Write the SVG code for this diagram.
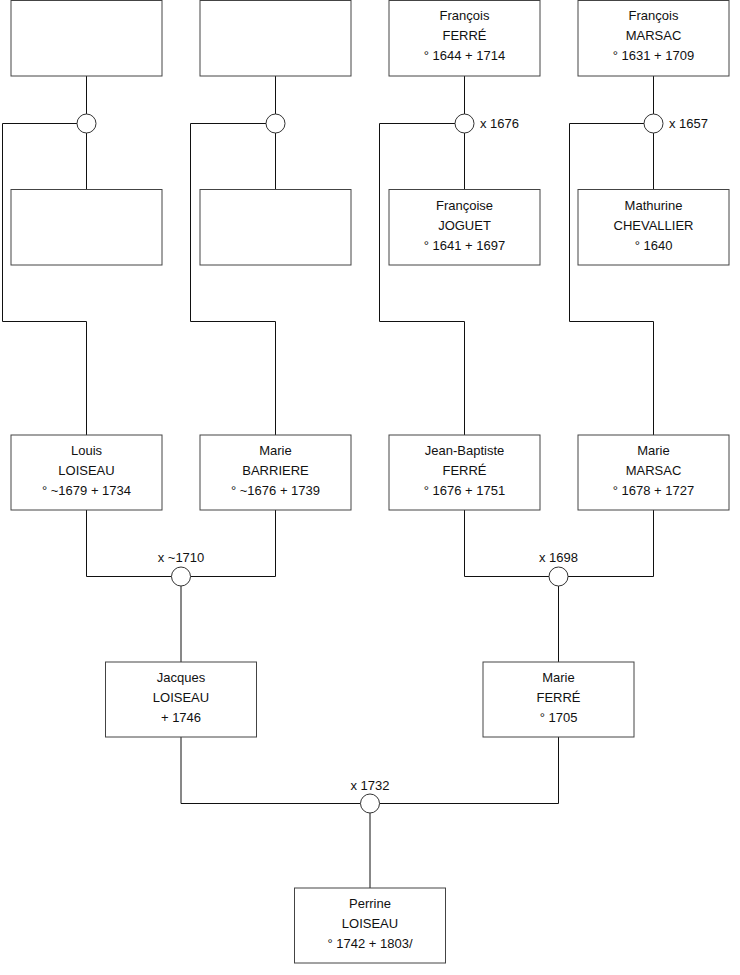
<svg xmlns="http://www.w3.org/2000/svg" width="740" height="975" viewBox="0 0 740 975">
<style>
.box{fill:#fff;stroke:#444;stroke-width:1}
.ln{fill:none;stroke:#111;stroke-width:1}
.ring{fill:#fff;stroke:#333;stroke-width:1}
text{font-family:"Liberation Sans",Arial,sans-serif;font-size:13px;fill:#111}
.c{text-anchor:middle}
</style>
<rect width="740" height="975" fill="#fff"/>
<g id="connectors">
<path class="ln" d="M86.5 76 V114 M86.5 133 V189.5 M77 123.5 H2.5 V321.5 H86.5 V435"/>
<path class="ln" d="M275.5 76 V114 M275.5 133 V189.5 M266 123.5 H190.5 V321.5 H275.5 V435"/>
<path class="ln" d="M464.5 76 V114 M464.5 133 V189.5 M455 123.5 H379.5 V321.5 H464.5 V435"/>
<path class="ln" d="M653.5 76 V114 M653.5 133 V189.5 M644 123.5 H569.5 V321.5 H653.5 V435"/>
<path class="ln" d="M86.5 510 V576.5 H171.5 M190.5 576.5 H275.5 V510 M181 586 V662"/>
<path class="ln" d="M464.5 510 V576.5 H549 M568 576.5 H653.5 V510 M558.5 586 V662"/>
<path class="ln" d="M181 737 V803.5 H360.5 M379.5 803.5 H558.5 V737 M370 813 V888"/>
<circle class="ring" cx="86.5" cy="123.5" r="9.5"/>
<circle class="ring" cx="275.5" cy="123.5" r="9.5"/>
<circle class="ring" cx="464.5" cy="123.5" r="9.5"/>
<circle class="ring" cx="653.5" cy="123.5" r="9.5"/>
<circle class="ring" cx="181" cy="576.5" r="9.5"/>
<circle class="ring" cx="558.5" cy="576.5" r="9.5"/>
<circle class="ring" cx="370" cy="803.5" r="9.5"/>
<text x="480" y="128">x 1676</text>
<text x="669" y="128">x 1657</text>
<text class="c" x="181" y="562">x ~1710</text>
<text class="c" x="558.5" y="562">x 1698</text>
<text class="c" x="370" y="789.5">x 1732</text>
</g>
<g id="n1"><rect class="box" x="11" y="0.5" width="151" height="75.5"/></g>
<g id="n2"><rect class="box" x="200" y="0.5" width="151" height="75.5"/></g>
<g id="n3"><rect class="box" x="389" y="0.5" width="151" height="75.5"/>
<text class="c" x="464.5" y="20">François</text><text class="c" x="464.5" y="40">FERRÉ</text><text class="c" x="464.5" y="60">° 1644 + 1714</text></g>
<g id="n4"><rect class="box" x="578" y="0.5" width="151" height="75.5"/>
<text class="c" x="653.5" y="20">François</text><text class="c" x="653.5" y="40">MARSAC</text><text class="c" x="653.5" y="60">° 1631 + 1709</text></g>
<g id="n5"><rect class="box" x="11" y="189.5" width="151" height="75.5"/></g>
<g id="n6"><rect class="box" x="200" y="189.5" width="151" height="75.5"/></g>
<g id="n7"><rect class="box" x="389" y="189.5" width="151" height="75.5"/>
<text class="c" x="464.5" y="209.5">Françoise</text><text class="c" x="464.5" y="229.5">JOGUET</text><text class="c" x="464.5" y="249.5">° 1641 + 1697</text></g>
<g id="n8"><rect class="box" x="578" y="189.5" width="151" height="75.5"/>
<text class="c" x="653.5" y="209.5">Mathurine</text><text class="c" x="653.5" y="229.5">CHEVALLIER</text><text class="c" x="653.5" y="249.5">° 1640</text></g>
<g id="n9"><rect class="box" x="11" y="435" width="151" height="75"/>
<text class="c" x="86.5" y="454.5">Louis</text><text class="c" x="86.5" y="474.5">LOISEAU</text><text class="c" x="86.5" y="494.5">° ~1679 + 1734</text></g>
<g id="n10"><rect class="box" x="200" y="435" width="151" height="75"/>
<text class="c" x="275.5" y="454.5">Marie</text><text class="c" x="275.5" y="474.5">BARRIERE</text><text class="c" x="275.5" y="494.5">° ~1676 + 1739</text></g>
<g id="n11"><rect class="box" x="389" y="435" width="151" height="75"/>
<text class="c" x="464.5" y="454.5">Jean-Baptiste</text><text class="c" x="464.5" y="474.5">FERRÉ</text><text class="c" x="464.5" y="494.5">° 1676 + 1751</text></g>
<g id="n12"><rect class="box" x="578" y="435" width="151" height="75"/>
<text class="c" x="653.5" y="454.5">Marie</text><text class="c" x="653.5" y="474.5">MARSAC</text><text class="c" x="653.5" y="494.5">° 1678 + 1727</text></g>
<g id="n13"><rect class="box" x="105.5" y="662" width="151" height="75"/>
<text class="c" x="181" y="681.5">Jacques</text><text class="c" x="181" y="701.5">LOISEAU</text><text class="c" x="181" y="721.5">+ 1746</text></g>
<g id="n14"><rect class="box" x="483" y="662" width="151" height="75"/>
<text class="c" x="558.5" y="681.5">Marie</text><text class="c" x="558.5" y="701.5">FERRÉ</text><text class="c" x="558.5" y="721.5">° 1705</text></g>
<g id="n15"><rect class="box" x="294.5" y="888" width="151" height="75"/>
<text class="c" x="370" y="907.5">Perrine</text><text class="c" x="370" y="927.5">LOISEAU</text><text class="c" x="370" y="947.5">° 1742 + 1803/</text></g>
</svg>
